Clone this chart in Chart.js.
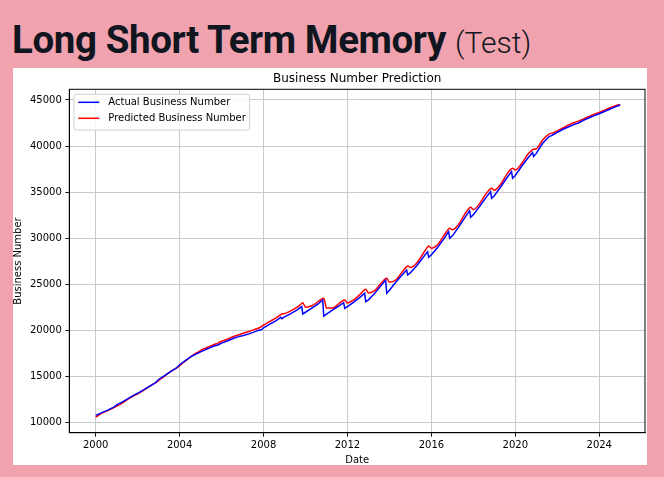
<!DOCTYPE html>
<html>
<head>
<meta charset="utf-8">
<script src="https://cdn.jsdelivr.net/npm/chart.js@4.4.0/dist/chart.umd.min.js"></script>
<style>
  html, body { margin: 0; padding: 0; }
  body { width: 664px; height: 477px; background: #f0a3ae; position: relative; overflow: hidden; }
  #title { position: absolute; left: 12px; top: 21px; margin: 0; font-family: Roboto; font-size: 38.5px;
           line-height: 1; font-weight: 700; color: #111520; white-space: nowrap; letter-spacing: -0.4px; }
  #title span { font-weight: 300; font-size: 30px; letter-spacing: 0; }
  #panel { position: absolute; left: 13px; top: 68px; width: 634px; height: 397px; background: #fff; }
  #wrap { position: absolute; left: 0; top: 0; width: 664px; height: 477px; }
</style>
</head>
<body>
<h1 id="title">Long Short Term Memory <span>(Test)</span></h1>
<div id="panel"></div>
<div id="wrap"><canvas id="lstmChart"></canvas></div>
<script>
// sample dates as decimal years (5 per year)
const dates = [
  2000.00, 2000.30, 2000.60, 2000.82, 2000.87,
  2001.00, 2001.30, 2001.60, 2001.82, 2001.87,
  2002.00, 2002.30, 2002.60, 2002.82, 2002.87,
  2003.00, 2003.30, 2003.60, 2003.82, 2003.87,
  2004.00, 2004.30, 2004.60, 2004.82, 2004.87,
  2005.00, 2005.30, 2005.60, 2005.82, 2005.87,
  2006.00, 2006.30, 2006.60, 2006.82, 2006.87,
  2007.00, 2007.30, 2007.60, 2007.82, 2007.87,
  2008.00, 2008.30, 2008.60, 2008.82, 2008.87,
  2009.00, 2009.30, 2009.60, 2009.82, 2009.87,
  2010.00, 2010.30, 2010.60, 2010.82, 2010.87,
  2011.00, 2011.30, 2011.60, 2011.82, 2011.87,
  2012.00, 2012.30, 2012.60, 2012.82, 2012.87,
  2013.00, 2013.30, 2013.60, 2013.82, 2013.87,
  2014.00, 2014.30, 2014.60, 2014.82, 2014.87,
  2015.00, 2015.30, 2015.60, 2015.82, 2015.87,
  2016.00, 2016.30, 2016.60, 2016.82, 2016.87,
  2017.00, 2017.30, 2017.60, 2017.82, 2017.87,
  2018.00, 2018.30, 2018.60, 2018.82, 2018.87,
  2019.00, 2019.30, 2019.60, 2019.82, 2019.87,
  2020.00, 2020.30, 2020.60, 2020.82, 2020.87,
  2021.00, 2021.30, 2021.60, 2021.82, 2021.87,
  2022.00, 2022.30, 2022.60, 2022.82, 2022.87,
  2023.00, 2023.30, 2023.60, 2023.82, 2023.87,
  2024.00, 2024.30, 2024.60, 2024.82, 2024.87,
  2025.00
];

const actual = [
  10750, 11050, 11350, 11600, 11650,
  11900, 12250, 12650, 12950, 13000,
  13150, 13550, 13950, 14250, 14350,
  14650, 15100, 15550, 15850, 15950,
  16250, 16750, 17200, 17450, 17500,
  17650, 17950, 18250, 18400, 18450,
  18600, 18850, 19150, 19300, 19350,
  19400, 19600, 19850, 20050, 20000,
  20250, 20650, 21050, 21400, 21250,
  21450, 21800, 22200, 22560, 21760,
  21950, 22400, 22850, 23280, 21540,
  21750, 22200, 22650, 22990, 22380,
  22550, 23050, 23600, 24010, 23100,
  23300, 24000, 24850, 25450, 24010,
  24350, 25200, 26000, 26540, 26000,
  26250, 27000, 27900, 28530, 27920,
  28200, 29000, 29950, 30700, 29980,
  30250, 31200, 32250, 32980, 32260,
  32550, 33450, 34400, 35050, 34330,
  34600, 35550, 36550, 37220, 36500,
  36800, 37800, 38700, 39290, 38860,
  39200, 40300, 41000, 41250, 41300,
  41500, 41850, 42150, 42350, 42400,
  42500, 42850, 43150, 43350, 43400,
  43500, 43800, 44100, 44300, 44350,
  44450
];

const predicted = [
  10550, 11000, 11300, 11550, 11600,
  11750, 12150, 12600, 12900, 12950,
  13100, 13500, 13950, 14250, 14300,
  14550, 15050, 15550, 15850, 15900,
  16150, 16700, 17250, 17550, 17600,
  17800, 18100, 18400, 18600, 18650,
  18800, 19050, 19350, 19500, 19550,
  19650, 19850, 20100, 20300, 20350,
  20550, 20950, 21350, 21700, 21750,
  21800, 22100, 22500, 22900, 22990,
  22500, 22650, 23100, 23450, 23470,
  22400, 22400, 22900, 23250, 23280,
  22950, 23300, 23900, 24400, 24440,
  24050, 24300, 25100, 25600, 25640,
  25200, 25450, 26300, 26900, 26980,
  26800, 27300, 28300, 29050, 29150,
  28900, 29300, 30300, 31000, 31070,
  30900, 31500, 32650, 33300, 33350,
  33100, 33750, 34800, 35380, 35410,
  35200, 35850, 36950, 37550, 37580,
  37400, 38100, 39100, 39620, 39650,
  39700, 40650, 41300, 41450, 41500,
  41650, 42000, 42350, 42550, 42600,
  42700, 43000, 43300, 43500, 43550,
  43650, 43950, 44250, 44400, 44450,
  44500
];

const xTicks = [2000, 2004, 2008, 2012, 2016, 2020, 2024];
const yTicks = [10000, 15000, 20000, 25000, 30000, 35000, 40000, 45000];

const FONT = 'DejaVu Sans';

// matplotlib look: full black frame, axes title, legend box in the top-left corner
const mplDecor = {
    id: 'mplDecor',
    afterDatasetsDraw(chart) {
        const ctx = chart.ctx;
        const a = chart.chartArea;
        ctx.save();

        ctx.strokeStyle = '#000';
        ctx.lineWidth = 1;
        ctx.strokeRect(a.left, a.top, a.right - a.left, a.bottom - a.top);

        ctx.fillStyle = '#000';
        ctx.font = '12px "' + FONT + '"';
        ctx.textAlign = 'center';
        ctx.textBaseline = 'middle';
        ctx.fillText('Business Number Prediction', (a.left + a.right) / 2, a.top - 10.5);

        ctx.font = '10px "' + FONT + '"';
        const sets = chart.data.datasets;
        const textW = Math.max(...sets.map(d => ctx.measureText(d.label).width));
        const bx = a.left + 4.7, by = a.top + 5;
        const bw = 34 + textW + 4, bh = 35.7;
        ctx.beginPath();
        ctx.roundRect(bx, by, bw, bh, 2);
        ctx.fillStyle = 'rgba(255,255,255,0.85)';
        ctx.fill();
        ctx.strokeStyle = '#d0d0d0';
        ctx.stroke();

        ctx.textAlign = 'left';
        sets.forEach((d, i) => {
            const ly = by + 8 + i * 16;
            ctx.strokeStyle = d.borderColor;
            ctx.lineWidth = 1.5;
            ctx.beginPath();
            ctx.moveTo(bx + 4.3, ly);
            ctx.lineTo(bx + 25.3, ly);
            ctx.stroke();
            ctx.fillStyle = '#000';
            ctx.fillText(d.label, bx + 34.3, ly);
        });
        ctx.restore();
    }
};

new Chart(document.getElementById('lstmChart'), {
    type: 'line',
    data: {
        datasets: [{
            label: 'Actual Business Number',
            data: dates.map((d, i) => ({ x: d, y: actual[i] })),
            borderColor: '#0000ff',
            borderWidth: 1.5,
            pointRadius: 0,
            tension: 0
        }, {
            label: 'Predicted Business Number',
            data: dates.map((d, i) => ({ x: d, y: predicted[i] })),
            borderColor: '#ff0000',
            borderWidth: 1.5,
            pointRadius: 0,
            cubicInterpolationMode: 'monotone'
        }]
    },
    options: {
        responsive: true,
        maintainAspectRatio: false,
        animation: false,
        layout: { padding: { left: 13, top: 89.3, right: 19, bottom: 12 } },
        plugins: {
            legend: { display: false },
            title: { display: false },
            tooltip: { enabled: false }
        },
        scales: {
            x: {
                type: 'linear',
                min: 1998.742,
                max: 2026.18,
                afterBuildTicks: s => { s.ticks = xTicks.map(v => ({ value: v })); },
                afterFit: s => { s.height = 32.3; },
                grid: { color: '#c4c4c4', lineWidth: 0.9, tickColor: '#000', tickLength: 4 },
                border: { display: true, color: '#000', width: 1 },
                ticks: {
                    font: { family: FONT, size: 10 }, color: '#000', padding: 3,
                    maxRotation: 0, autoSkip: false, callback: v => String(v)
                },
                title: { display: true, text: 'Date', color: '#000', padding: 0,
                         font: { family: FONT, size: 10, lineHeight: 1 } }
            },
            y: {
                type: 'linear',
                min: 8870,
                max: 46160,
                afterBuildTicks: s => { s.ticks = yTicks.map(v => ({ value: v })); },
                afterFit: s => { s.width = 56.3; },
                grid: { color: '#c4c4c4', lineWidth: 0.9, tickColor: '#000', tickLength: 4 },
                border: { display: true, color: '#000', width: 1 },
                ticks: {
                    font: { family: FONT, size: 10 }, color: '#000', padding: 3.5,
                    callback: v => String(v)
                },
                title: { display: true, text: 'Business Number', color: '#000', padding: 0.3,
                         font: { family: FONT, size: 10, lineHeight: 1 } }
            }
        }
    },
    plugins: [mplDecor]
});
</script>
</body>
</html>
